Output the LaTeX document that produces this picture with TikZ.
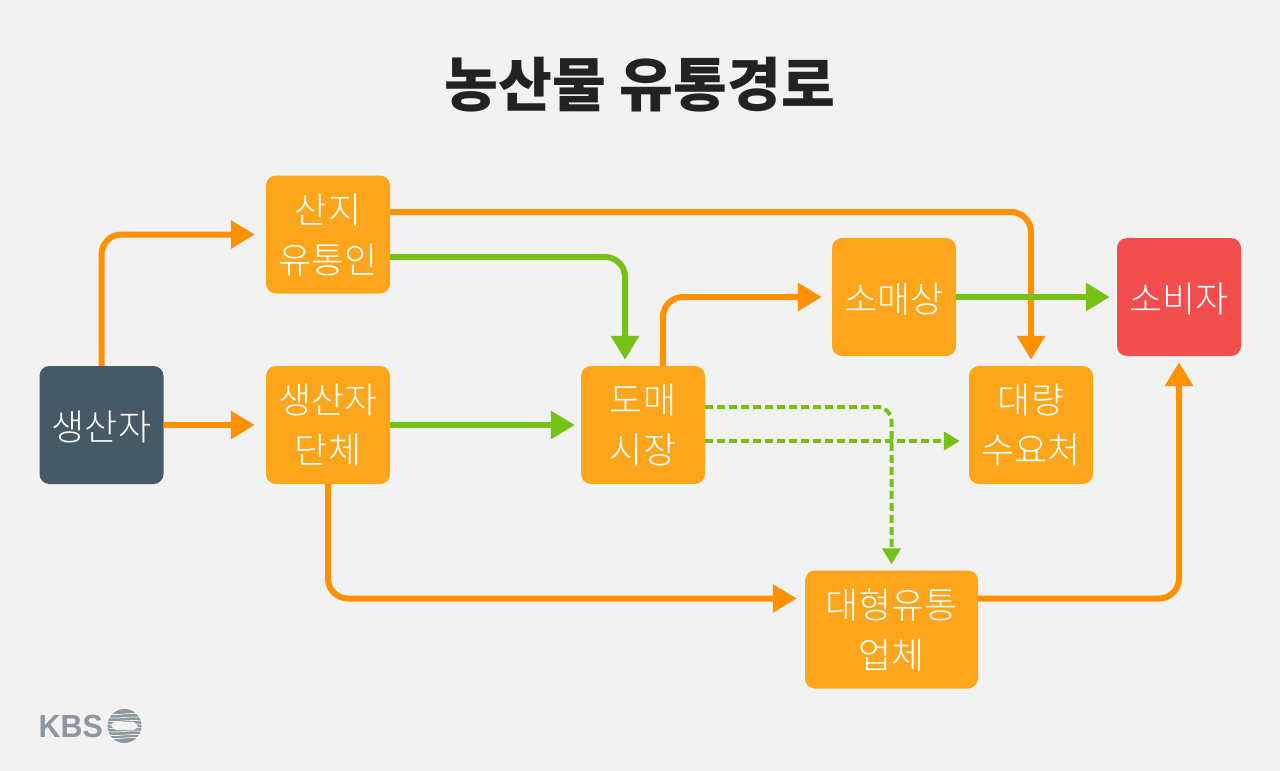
\documentclass[tikz,border=0pt]{standalone}
\usepackage{fontspec}
\setmainfont{Noto Sans CJK KR}
\newfontfamily\lightfont{Noto Sans CJK KR Light}
\newfontfamily\logofont{Liberation Sans}
\usetikzlibrary{arrows.meta}
\definecolor{bgc}{HTML}{F2F2F2}
\definecolor{boxo}{HTML}{FEA61B}
\definecolor{lineo}{HTML}{FF9100}
\definecolor{lineg}{HTML}{76C116}
\definecolor{darkb}{HTML}{455A64}
\definecolor{redb}{HTML}{F24E4E}
\definecolor{titlec}{HTML}{222222}
\definecolor{logoc}{HTML}{8C979E}
\tikzset{
  pbox/.style={rectangle,rounded corners=10pt,fill=boxo,text=white,inner sep=0pt,align=center,
    font=\lightfont\fontsize{36}{50}\selectfont,minimum width=124pt,minimum height=118pt},
  pone/.style={pbox,execute at begin node={\rule{0pt}{33.5pt}}},
  ptwo/.style={pbox,execute at begin node={\rule{0pt}{45pt}}},
  oarrow/.style={draw=lineo,line width=6pt,rounded corners=20pt,-{Triangle[length=24pt,width=27pt]}},
  garrow/.style={draw=lineg,line width=6pt,rounded corners=20pt,-{Triangle[length=24pt,width=27pt]}},
  darrow/.style={draw=lineg,line width=4pt,rounded corners=14pt,dash pattern=on 8pt off 4pt,-{Triangle[length=16pt,width=18pt]}}
}
\begin{document}
\begin{tikzpicture}[x=1pt,y=-1pt]
\useasboundingbox[fill=bgc] (0,0) rectangle (1280,771);
\node[font=\fontsize{58.5}{60}\bfseries\selectfont,text=titlec,inner sep=0pt] (title) at (640,85) {농산물 유통경로};
\node[pone,fill=darkb] (prod) at (101.5,425) {생산자};
\node[ptwo] (sanji) at (328,234.5) {산지\\유통인};
\node[ptwo] (group) at (328,425) {생산자\\단체};
\node[ptwo] (domae) at (643,425) {도매\\시장};
\node[pone] (somae) at (894,297) {소매상};
\node[ptwo] (bulk) at (1031,425) {대량\\수요처};
\node[pone,fill=redb] (cons) at (1179,297) {소비자};
\node[ptwo,minimum width=173pt] (large) at (891.5,629.5) {대형유통\\업체};
% orange
\draw[oarrow,shorten >=11pt] (prod.north) |- (sanji.west);
\draw[oarrow,shorten >=11pt] (prod.east) -- (group.west);
\draw[oarrow,shorten >=6pt] ([yshift=22.5pt]sanji.east) -| (bulk.north);
\draw[oarrow,shorten >=10pt] ([xshift=20pt]domae.north) |- (somae.west);
\draw[oarrow,shorten >=8pt] (group.south) |- ([yshift=31pt]large.west);
\draw[oarrow,shorten >=6pt] ([yshift=31pt]large.east) -| (cons.south);
% green
\draw[garrow,shorten >=6pt] ([yshift=-22.5pt]sanji.east) -| ([xshift=-18pt]domae.north);
\draw[garrow,shorten >=6pt] (group.east) -- (domae.west);
\draw[garrow,shorten >=7pt] (somae.east) -- (cons.west);
% dashed
\draw[darrow,shorten >=6pt] ([yshift=18pt]domae.east) -| (large.north);
\draw[darrow,shorten >=9pt] ([yshift=-16pt]domae.east) -- ([yshift=-16pt]bulk.west);
% logo
\node[font=\logofont\bfseries\fontsize{32}{32}\selectfont,text=logoc,inner sep=0pt,anchor=west,xscale=0.95] (kbs) at (38.5,726) {KBS};
\fill[logoc] (124.5,726) circle (17);
\foreach \yy in {714,717.5,721,724.5,728,731.5,735,738}
  \draw[bgc,line width=0.7pt] (107.5,\yy) .. controls (118,\yy+2) and (131,\yy-2) .. (141.5,\yy);
\fill[bgc] (111,725) .. controls (116,718) and (122,723) .. (129,722) .. controls (134,721) and (137,723) .. (138,727)
  .. controls (132,733) and (127,729) .. (120,730) .. controls (116,731) and (113,729) .. (111,725) -- cycle;
\end{tikzpicture}
\end{document}
